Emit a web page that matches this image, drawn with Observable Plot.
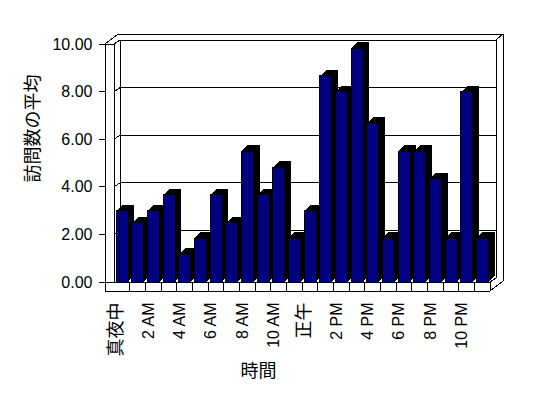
<!DOCTYPE html>
<html>
<head>
<meta charset="utf-8">
<script src="https://cdn.jsdelivr.net/npm/d3@7"></script>
<script src="https://cdn.jsdelivr.net/npm/@observablehq/plot@0.6"></script>
<style>
  html, body { margin: 0; padding: 0; background: #fff; }
  #chart svg { display: block; }
</style>
</head>
<body>
<div id="chart"></div>
<script>
// ---- data ----
const hours = ["真夜中","1 AM","2 AM","3 AM","4 AM","5 AM","6 AM","7 AM","8 AM","9 AM","10 AM","11 AM",
               "正午","1 PM","2 PM","3 PM","4 PM","5 PM","6 PM","7 PM","8 PM","9 PM","10 PM","11 PM"];
const visits = [3.0, 2.5, 3.0, 3.67, 1.17, 1.83, 3.67, 2.5, 5.5, 3.67, 4.83, 1.83,
                3.0, 8.67, 8.0, 9.83, 6.67, 1.83, 5.5, 5.5, 4.33, 1.83, 8.0, 1.83];
const tickLabels = ["真夜中","2 AM","4 AM","6 AM","8 AM","10 AM","正午","2 PM","4 PM","6 PM","8 PM","10 PM"];
const yTicks = [0, 2, 4, 6, 8, 10];
const yTitle = "訪問数の平均";
const xTitle = "時間";

const data = hours.map((h, i) => ({hour: h, value: visits[i]}));
const yMax = 10;
const latinLabels = tickLabels.filter(d => /[A-Z]/.test(d));
const cjkLabels = tickLabels.filter(d => !/[A-Z]/.test(d));

// ---- 3D frame drawn through the plot's scales ----
function frame3D(index, scales, values, dim) {
  const {width, marginLeft: L, marginRight: R, marginTop: T, height, marginBottom: B} = dim;
  const y = (typeof scales.y === "function") ? scales.y
          : v => (height - B) - (v / yMax) * (height - B - T);
  const x0 = L, x1 = width - R, yb = y(0), yt = y(yMax);
  const step = (x1 - x0) / hours.length;
  const t = 9;              // wall / floor thickness
  const dx = 6, dy = -4;    // inner depth
  const ox = 13, oy = -10;  // outer depth
  const g = d3.create("svg:g")
    .attr("fill", "none").attr("stroke", "black").attr("stroke-width", 1)
    .attr("shape-rendering", "crispEdges");
  const line = pts => g.append("path").attr("d", "M" + pts.map(p => p.join(",")).join("L"));
  line([[x0 - t, yb + t], [x0 - t, yt], [x0 - t + ox, yt + oy], [x1 + ox, yt + oy], [x1 + ox, yb + t + oy], [x1, yb + t]]);
  line([[x0 - t, yt], [x0, yt], [x0, yb]]);
  line([[x0, yt], [x0 + dx, yt + dy]]);
  line([[x0 + dx, yb + dy], [x0 + dx, yt + dy], [x1 + dx, yt + dy], [x1 + dx, yb + dy]]);
  line([[x1 + dx, yt + dy], [x1 + ox, yt + oy]]);
  line([[x0 - t, yb], [x1, yb], [x1, yb + t]]);
  line([[x0 - t, yb + t], [x1, yb + t]]);
  line([[x1, yb], [x1 + dx, yb + dy]]);
  for (let i = 1; i < hours.length; i++) {
    const xi = x0 + i * step;
    line([[xi, yb], [xi, yb + t]]);
  }
  for (const v of yTicks) {
    const yy = y(v);
    if (v > 0 && v < yMax) line([[x0, yy], [x0 + dx, yy + dy], [x1 + dx, yy + dy]]);
    line([[x0 - t - 6, yy], [x0 - t, yy]]);
  }
  return g.node();
}

const depthMarks = [];
for (let i = 1; i <= 6; i++) {
  depthMarks.push(Plot.barY(data, {x: "hour", y: "value", fill: "black",
    insetLeft: 2, insetRight: 1.5, dx: i, dy: -i, shapeRendering: "crispEdges"}));
}

const chart = Plot.plot({
  width: 548,
  height: 398,
  marginLeft: 114,
  marginRight: 58,
  marginTop: 44,
  marginBottom: 116,
  style: {fontFamily: "'Liberation Sans', 'Noto Sans CJK JP', sans-serif", background: "#fff", color: "#000"},
  x: {type: "band", domain: hours, padding: 0, round: false, axis: null},
  y: {domain: [0, yMax], axis: null},
  marks: [
    frame3D,
    ...depthMarks,
    Plot.barY(data, {x: "hour", y: "value", fill: "#000080", stroke: "black", strokeWidth: 1,
      insetLeft: 2, insetRight: 1.5, shapeRendering: "crispEdges"}),
    Plot.text(yTicks, {y: d => d, text: d => d.toFixed(2), frameAnchor: "left",
      textAnchor: "end", dx: -22, fontSize: 16, fill: "black"}),
    Plot.text(latinLabels, {x: d => d, text: d => d, frameAnchor: "bottom", rotate: -90,
      textAnchor: "end", dy: 20, fontSize: 16, fill: "black"}),
    Plot.text(cjkLabels, {x: d => d, text: d => d, frameAnchor: "bottom", rotate: -90,
      textAnchor: "end", dy: 20, fontSize: 18, fill: "black"}),
    Plot.text([yTitle], {text: d => d, frameAnchor: "left", rotate: -90, dx: -81, dy: 19,
      fontSize: 18, fill: "black"}),
    Plot.text([xTitle], {text: d => d, frameAnchor: "bottom", dx: -44, dy: 94,
      fontSize: 18, fill: "black"})
  ]
});
document.getElementById("chart").appendChild(chart);
</script>
</body>
</html>
